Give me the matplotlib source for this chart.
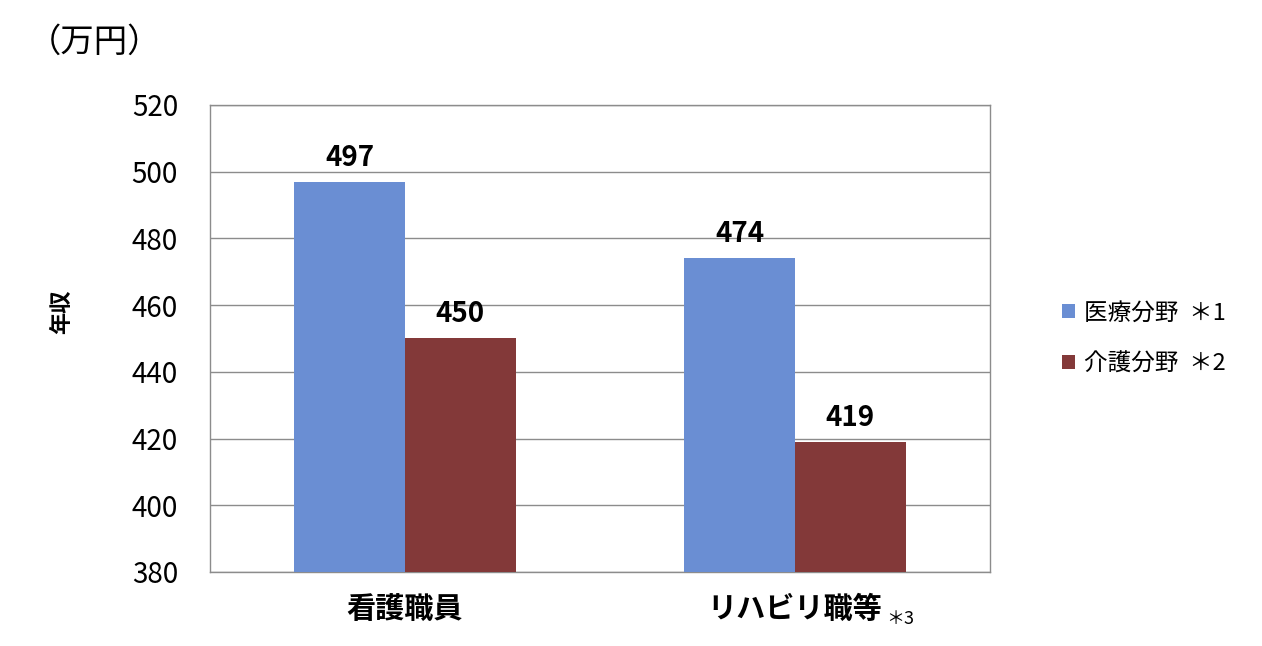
import matplotlib
matplotlib.use("Agg")
import matplotlib.pyplot as plt
import numpy as np

plt.rcParams['font.family'] = ['Noto Sans CJK JP', 'DejaVu Sans']

categories = ["看護職員", "リハビリ職等"]
series_names = ["医療分野  ＊1", "介護分野  ＊2"]
medical = [497, 474]
care = [450, 419]
yticks = [380, 400, 420, 440, 460, 480, 500, 520]

blue = "#6A8ED3"
red = "#833939"

fig = plt.figure(figsize=(12.62, 6.46), dpi=100)
ax = fig.add_axes([0.1664, 0.1146, 0.618, 0.7229])

x = np.arange(len(categories))
w = 0.284
b1 = ax.bar(x - w / 2, medical, w, color=blue, label=series_names[0], zorder=3)
b2 = ax.bar(x + w / 2, care, w, color=red, label=series_names[1], zorder=3)

for bars, vals in ((b1, medical), (b2, care)):
    for r, v in zip(bars, vals):
        ax.text(r.get_x() + r.get_width() / 2, v + 3.0, str(v), ha="center", va="bottom",
                fontsize=20, fontweight="bold")

ax.set_xlim(-0.5, 1.5)
ax.set_ylim(380, 520)
ax.set_yticks(yticks)
ax.set_yticklabels([str(t) for t in yticks], fontsize=20)
ax.set_xticks(x)
ax.set_xticklabels(categories, fontsize=21, fontweight="bold")
ax.tick_params(axis="x", length=0, pad=16)
ax.tick_params(axis="y", length=0, pad=23)
ax.yaxis.grid(True, color="#8c8c8c", linewidth=1, zorder=0)
for s in ax.spines.values():
    s.set_color("#8c8c8c")
    s.set_linewidth(1)

ax.text(1.235, -0.1, "＊3", transform=ax.get_xaxis_transform(), fontsize=13, ha="left", va="center")

fig.text(62 / 1262, 1 - 312 / 646, "年収", fontsize=16, fontweight="bold", rotation=90,
         ha="center", va="center")

fig.text(0.022, 0.935, "（万円）", fontsize=24, ha="left", va="center")

leg = ax.legend(loc="center left", bbox_to_anchor=(1.065, 0.5), frameon=False, fontsize=17,
                handlelength=0.55, handleheight=0.55, handletextpad=0.4, labelspacing=1.2)

fig.savefig("out.png", dpi=100)
